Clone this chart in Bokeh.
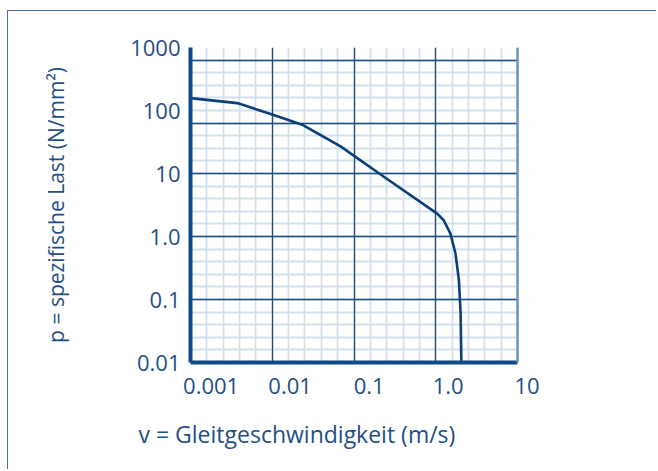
from bokeh.plotting import figure
from bokeh.models import FixedTicker, LogAxis, BoxAnnotation, Span, Title, Grid
from bokeh.embed import file_html
from bokeh.resources import INLINE

# ---- data ----
V = [0.00055, 0.00214, 0.00593, 0.0142, 0.0435, 0.178, 0.728, 0.88, 1.07, 1.24, 1.37, 1.44, 1.47]
P = [157.0, 131.0, 86.7, 59.6, 27.0, 7.8, 2.31, 1.81, 1.11, 0.537, 0.203, 0.060, 0.01]

X_TICKS = [0.001, 0.01, 0.1, 1.0, 10.0]
X_LABELS = ["0.001", "0.01", "0.1", "1.0", "10"]
Y_TICKS = [0.01, 0.1, 1.0, 10.0, 100.0, 1000.0]
Y_LABELS = ["0.01", "0.1", "1.0", "10", "100", "1000"]

X_TITLE = "v = Gleitgeschwindigkeit (m/s)"
Y_TITLE = "p = spezifische Last (N/mm²)"

# ---- styling / paper grid geometry (log10 units) ----
X_LOG_LO, X_LOG_HI = -3.261, 1.043
FRAME_W, FRAME_H = 340, 315
X_CELL, X_CELLS = 0.2070, 20          # graph-paper cells along x
Y_CELL = 0.2
Y_MAJOR_LOG = [-1.0, 0.0, 1.0, 1.8, 2.8]

NAVY = "#0f4a86"
TEXT = "#1f4f85"
GRID_MAJOR = "#1d4c80"
GRID_MINOR = "#d2e1ed"
FONT = "Open Sans"

x_edge = 10 ** (X_LOG_LO + X_CELL * X_CELLS)
x_minor = [10 ** (X_LOG_LO + X_CELL * i) for i in range(1, X_CELLS + 1)]
x_major = [10 ** (X_LOG_LO + X_CELL * i) for i in range(5, X_CELLS, 5)]
y_minor = [10 ** (-2 + Y_CELL * i) for i in range(1, 26)]
y_major = [10 ** v for v in Y_MAJOR_LOG]

W, H = 649, 459
MBL, MBT = 182, 36
p = figure(width=W, height=H, x_axis_type="log", y_axis_type="log",
           x_range=(10 ** X_LOG_LO, 10 ** X_LOG_HI), y_range=(Y_TICKS[0], Y_TICKS[-1]),
           output_backend="svg", toolbar_location=None,
           min_border_left=MBL, min_border_right=W - MBL - FRAME_W,
           min_border_top=MBT, min_border_bottom=H - MBT - FRAME_H)
p.outline_line_color = None
p.background_fill_color = "white"
p.border_fill_color = "white"
p.styles = {"margin-left": "7px", "margin-top": "10px",
            "border-top": "1.5px solid #4b74a0", "border-left": "1.5px solid #4b74a0"}

# graph paper: minor lines first (default grids), then major lines on top
p.xgrid.ticker = FixedTicker(ticks=[], minor_ticks=x_minor)
p.ygrid.ticker = FixedTicker(ticks=[], minor_ticks=y_minor)
for g in (p.xgrid, p.ygrid):
    g.grid_line_color = None
    g.minor_grid_line_color = GRID_MINOR
    g.minor_grid_line_width = 1.8
for dim, ticks in ((0, x_major), (1, y_major)):
    p.add_layout(Grid(dimension=dim, ticker=FixedTicker(ticks=ticks),
                      grid_line_color=GRID_MAJOR, grid_line_width=1.3))

# mask the paper beyond its right edge and draw that edge
p.add_layout(BoxAnnotation(left=x_edge, right=10 ** (X_LOG_HI + 0.2),
                           fill_color="white", fill_alpha=1.0, line_color=None))
p.add_layout(Span(location=x_edge, dimension="height", line_color="#6f92b9", line_width=2.5))

# curve
p.line(V, P, line_color="#0b3f7a", line_width=2.6, line_join="round")

# y axis
ya = p.yaxis[0]
ya.ticker = FixedTicker(ticks=Y_TICKS)
ya.major_label_overrides = dict(zip(Y_TICKS, Y_LABELS))
ya.major_tick_line_color = None
ya.minor_tick_line_color = None
ya.major_tick_out = 0
ya.major_tick_in = 0
ya.axis_line_color = NAVY
ya.axis_line_width = 4
ya.major_label_standoff = 10
ya.major_label_text_font = FONT
ya.major_label_text_font_size = "22px"
ya.major_label_text_color = TEXT
ya.axis_label = Y_TITLE
ya.axis_label_text_font = FONT
ya.axis_label_text_font_size = "21px"
ya.axis_label_text_font_style = "normal"
ya.axis_label_text_color = TEXT
ya.axis_label_standoff = 57

# bottom axis line only (limited to the paper)
xa = p.xaxis[0]
xa.ticker = FixedTicker(ticks=[])
xa.bounds = (10 ** X_LOG_LO, x_edge)
xa.major_tick_line_color = None
xa.minor_tick_line_color = None
xa.major_tick_out = 0
xa.major_tick_in = 0
xa.major_label_standoff = 0
xa.axis_line_color = NAVY
xa.axis_line_width = 4

# bottom labels
xl = LogAxis(ticker=FixedTicker(ticks=X_TICKS),
             major_label_overrides=dict(zip(X_TICKS, X_LABELS)))
xl.axis_line_color = None
xl.major_tick_line_color = None
xl.minor_tick_line_color = None
xl.major_tick_out = 0
xl.major_tick_in = 0
xl.major_label_standoff = 15
xl.major_label_text_font = FONT
xl.major_label_text_font_size = "22px"
xl.major_label_text_color = TEXT
p.add_layout(xl, "below")

# x title, left-aligned under the chart as in the original
p.add_layout(Title(text=X_TITLE, align="left", offset=-52, standoff=38,
                   text_font=FONT, text_font_size="23px", text_font_style="normal",
                   text_color=TEXT), "below")

open("out.html", "w").write(file_html(p, INLINE))
